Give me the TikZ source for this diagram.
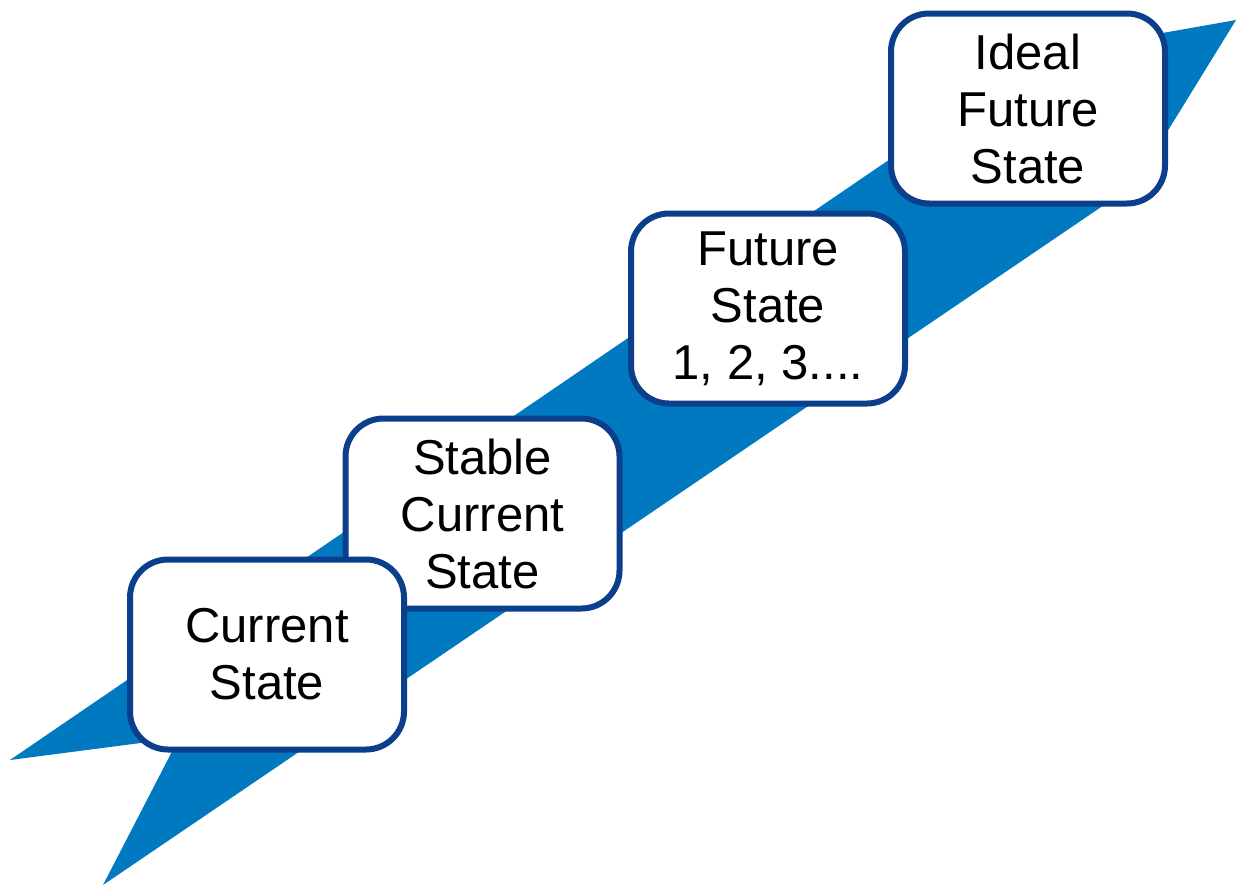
\documentclass[tikz,border=0pt]{standalone}
\usepackage{fontspec}
\setmainfont{Liberation Sans}
\definecolor{bandblue}{HTML}{0179C1}
\definecolor{edgeblue}{HTML}{0B3F8C}
\tikzset{
  statebox/.style={rectangle, rounded corners=38pt, draw=edgeblue, line width=6pt,
    fill=white, minimum width=274pt, minimum height=190pt, align=center,
    text=black, font=\fontsize{49}{57}\selectfont, inner sep=0pt},
  band/.style={fill=bandblue}
}
\begin{document}
\begin{tikzpicture}[x=1pt,y=-1pt]
\useasboundingbox (0,0) rectangle (1236,886);
% rising ribbon behind the steps
\coordinate (tipL) at (10,760);
\coordinate (kinkT) at (1044,54);
\coordinate (tipR) at (1236,20);
\coordinate (kinkB) at (1135,184);
\coordinate (tipB) at (103,885);
\coordinate (notch) at (179,738);
\fill[band] (tipL) -- (kinkT) -- (tipR) -- (kinkB) -- (tipB) -- (notch) -- cycle;
% the four steps, lowest drawn last
\node[statebox] (ideal) at (1028,108.5) {Ideal\\Future\\State};
\node[statebox] (future) at (768,308.5) {Future\\State\\1, 2, 3....};
\node[statebox] (stable) at (482.5,513.5) {Stable\\Current\\State};
\node[statebox] (current) at (267,654.5) {Current\\State};
\end{tikzpicture}
\end{document}
